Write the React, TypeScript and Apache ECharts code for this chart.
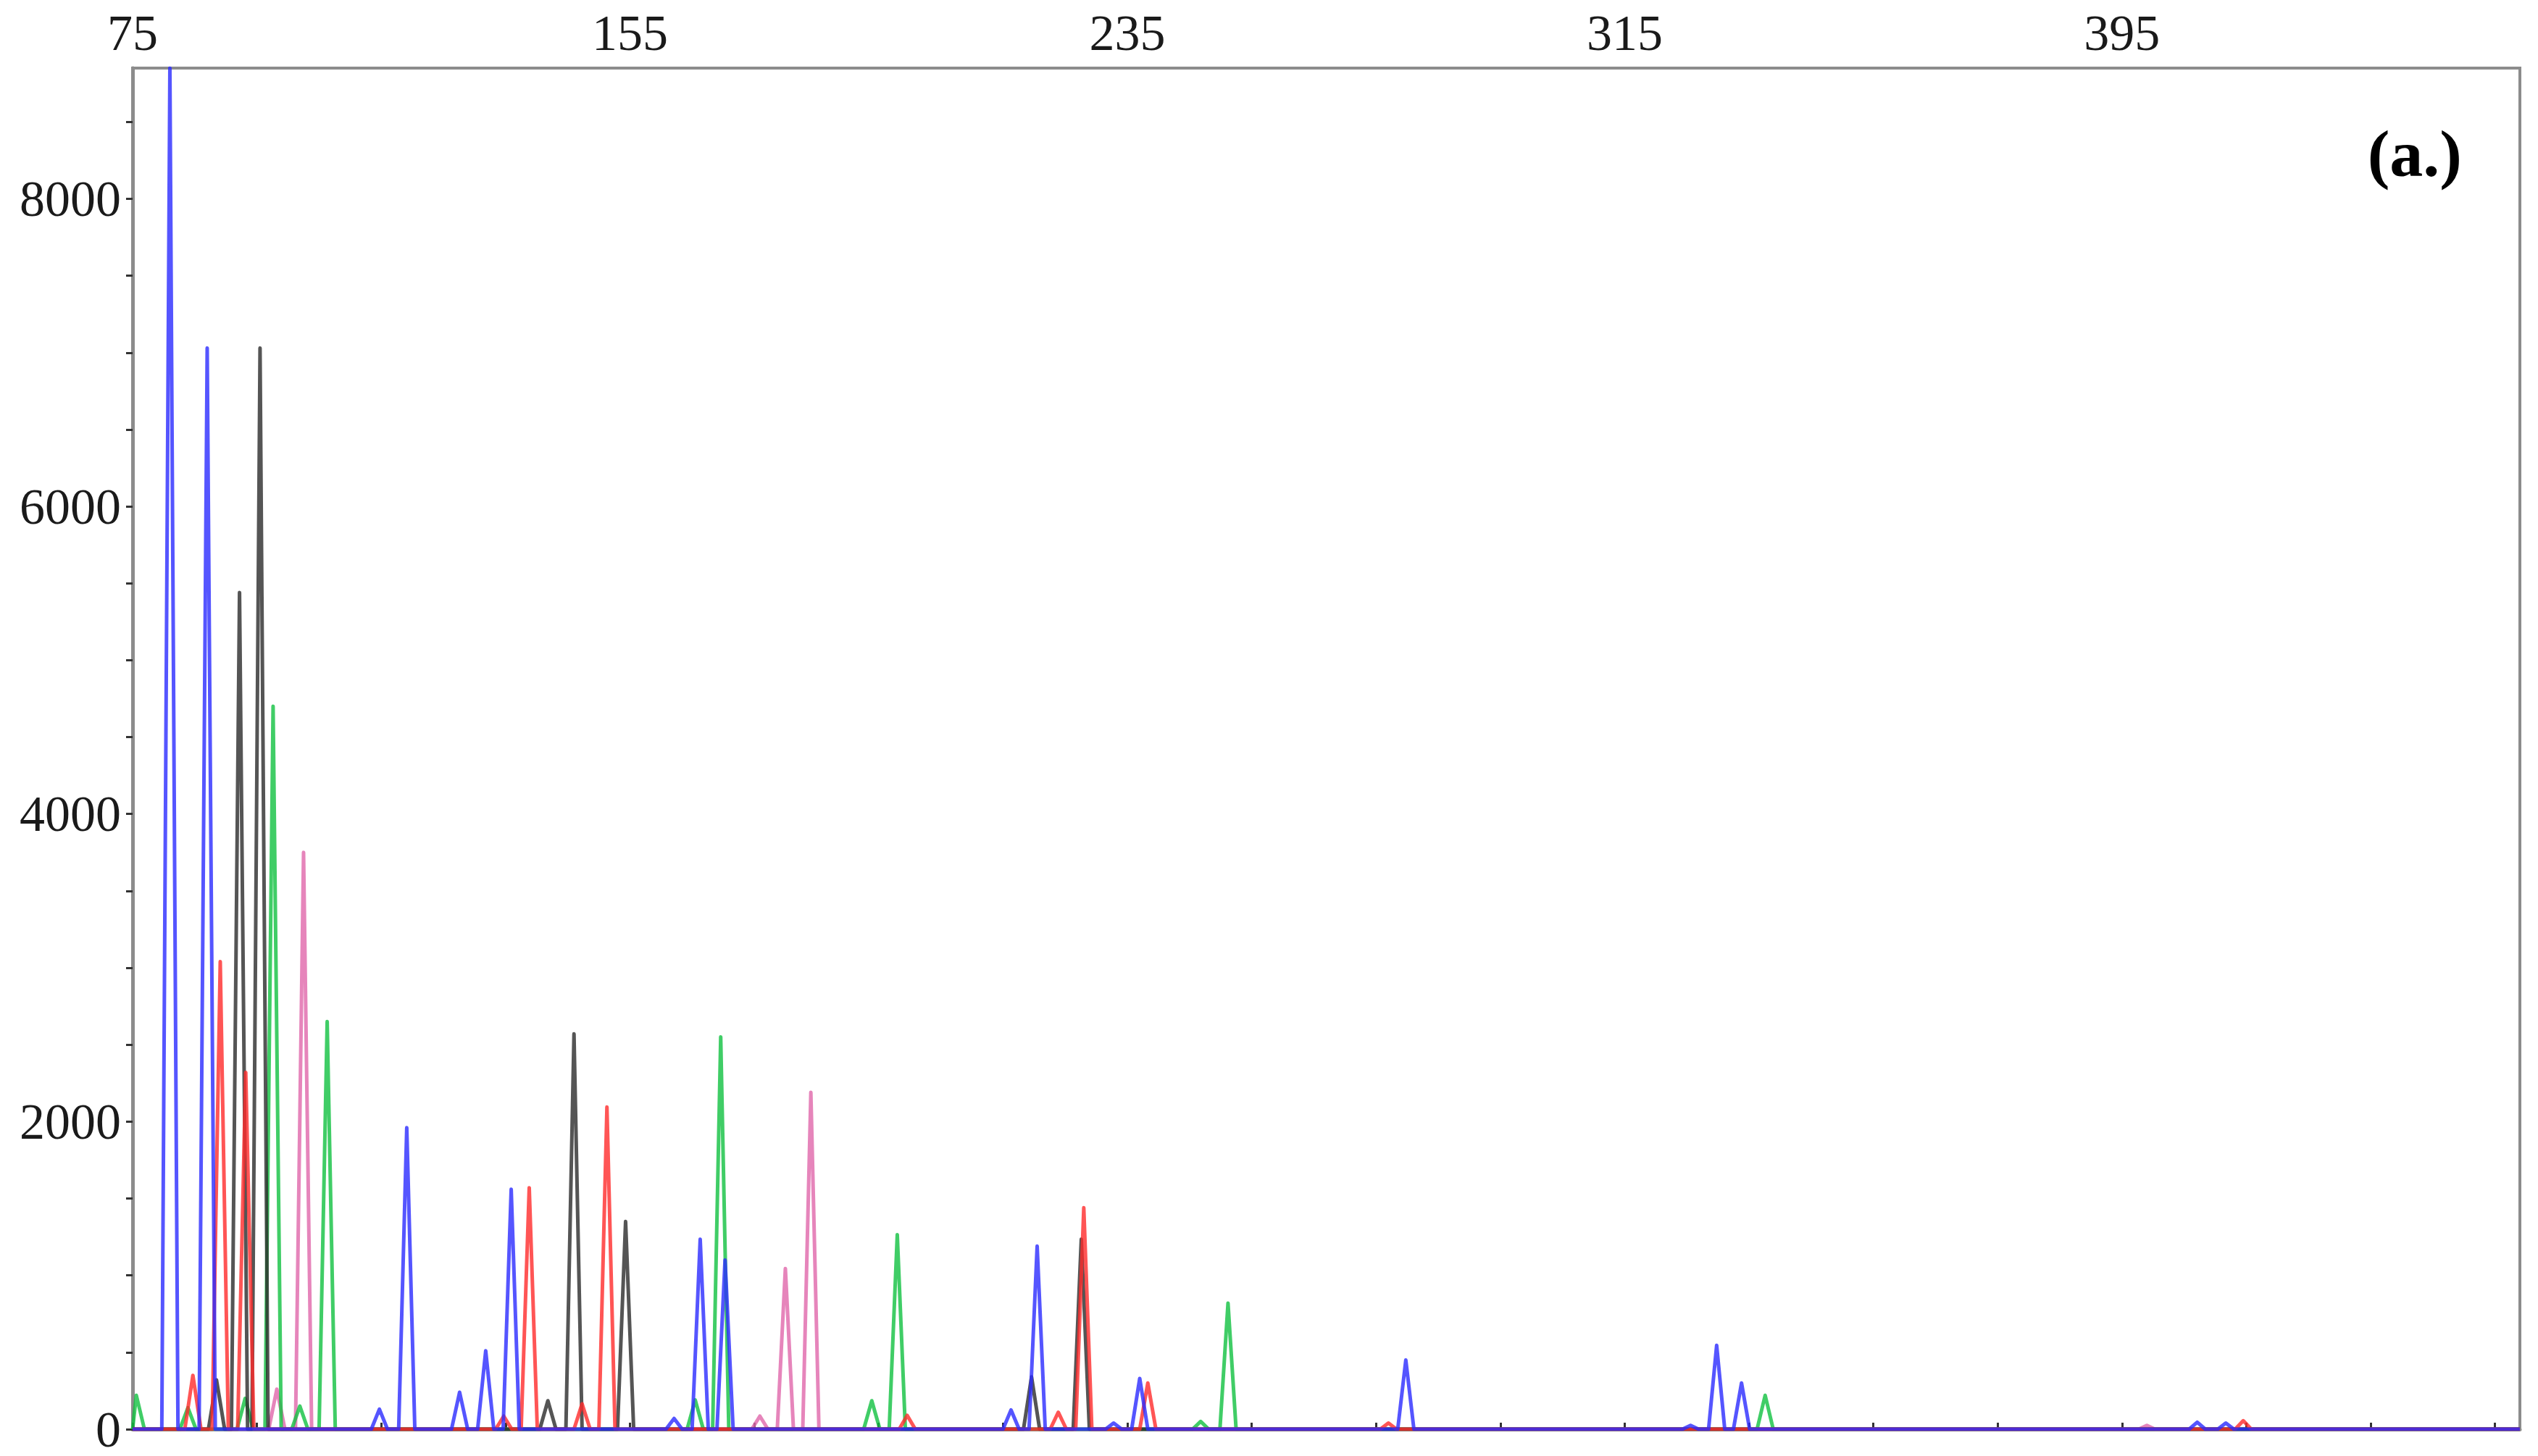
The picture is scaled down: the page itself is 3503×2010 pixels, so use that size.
import React, { useEffect, useRef } from "react";
import * as echarts from "echarts";

// Axis ranges and tick labels
const X_MIN = 75;
const X_MAX = 459;
const Y_MAX = 8850;
const xTickLabels = [75, 155, 235, 315, 395];
const yTickLabels = [0, 2000, 4000, 6000, 8000];

// Peaks: [size position, signal height]
const blueTrace: [number, number][] = [
  [81.0, 8850], [87.0, 7030], [114.7, 130], [119.1, 1960], [127.6, 240],
  [131.8, 510], [135.9, 1560], [162.1, 70], [166.3, 1235], [170.3, 1100],
  [216.3, 125], [220.5, 1190], [232.8, 40], [237.0, 330], [279.8, 450],
  [325.6, 25], [329.8, 545], [333.8, 300], [407.1, 45], [411.7, 40],
];
const redTrace: [number, number][] = [
  [84.7, 350], [89.1, 3040], [93.2, 2320], [134.7, 85], [138.8, 1570],
  [147.3, 165], [151.3, 2095], [199.6, 90], [223.9, 110], [228.0, 1440],
  [238.3, 300], [277.0, 40], [414.5, 55],
];
const blackTrace: [number, number][] = [
  [88.5, 320], [92.2, 5440], [95.5, 7030], [141.8, 185], [146.0, 2570],
  [154.3, 1350], [219.6, 340], [227.6, 1235],
];
const greenTrace: [number, number][] = [
  [75.6, 220], [83.9, 140], [93.1, 200], [97.6, 4700], [101.9, 150],
  [106.3, 2650], [165.5, 190], [169.6, 2550], [193.9, 185], [198.0, 1265],
  [246.8, 50], [251.2, 820], [337.6, 220],
];
const pinkTrace: [number, number][] = [
  [98.2, 260], [102.5, 3750], [175.9, 85], [180.0, 1045], [184.1, 2190],
  [399.0, 25],
];

const PEAK_HALF_WIDTH = 1.3;

function buildTrace(peaks: [number, number][]): [number, number][] {
  const pts: [number, number][] = [[X_MIN, 0]];
  for (const [p, h] of peaks) {
    pts.push([Math.max(X_MIN, p - PEAK_HALF_WIDTH), 0]);
    pts.push([p, h]);
    pts.push([Math.min(X_MAX, p + PEAK_HALF_WIDTH), 0]);
  }
  pts.push([X_MAX, 0]);
  return pts;
}

const FONT = "'Liberation Serif', 'DejaVu Serif', serif";

export default function App() {
  const ref = useRef<HTMLDivElement>(null);
  useEffect(() => {
    if (!ref.current) return;
    const chart = echarts.init(ref.current, undefined, { renderer: "svg" });
    const mk = (name: string, data: [number, number][], color: string, z: number) => ({
      name,
      type: "line",
      data: buildTrace(data),
      showSymbol: false,
      symbol: "none",
      z,
      lineStyle: { color, width: 5, opacity: 0.8, join: "round" },
      itemStyle: { color },
      emphasis: { disabled: true },
    });
    chart.setOption({
      animation: false,
      backgroundColor: "#ffffff",
      grid: {
        left: 183,
        right: 25,
        top: 94,
        bottom: 37,
        show: true,
        borderColor: "#8c8c8c",
        borderWidth: 4,
        backgroundColor: "transparent",
      },
      xAxis: {
        type: "value",
        position: "top",
        min: X_MIN,
        max: X_MAX,
        interval: 20,
        splitLine: { show: false },
        axisLine: { show: true, lineStyle: { color: "#8c8c8c", width: 5 } },
        axisTick: { show: true, inside: false, length: 9, lineStyle: { color: "#333", width: 3 } },
        axisLabel: {
          show: true,
          margin: 14,
          fontFamily: FONT,
          fontSize: 70,
          color: "#1a1a1a",
          showMaxLabel: false,
          formatter: (v: number) => {
            const r = Math.round(v);
            return xTickLabels.includes(r) ? String(r) : "";
          },
        },
      },
      yAxis: {
        type: "value",
        min: 0,
        max: Y_MAX,
        interval: 500,
        splitLine: { show: false },
        axisLine: { show: true, lineStyle: { color: "#8c8c8c", width: 5 } },
        axisTick: { show: true, inside: false, length: 9, lineStyle: { color: "#333", width: 3 } },
        axisLabel: {
          show: true,
          margin: 16,
          fontFamily: FONT,
          fontSize: 70,
          color: "#1a1a1a",
          showMaxLabel: false,
          formatter: (v: number) => {
            const r = Math.round(v);
            return yTickLabels.includes(r) ? String(r) : "";
          },
        },
      },
      series: [
        mk("pink", pinkTrace, "#e067aa", 2),
        mk("green", greenTrace, "#10c040", 3),
        mk("black", blackTrace, "#2a2a2a", 4),
        mk("red", redTrace, "#ff2b2b", 5),
        mk("blue", blueTrace, "#2a2aff", 6),
      ],
      graphic: [
        {
          type: "text",
          right: 105,
          top: 166,
          z: 100,
          style: {
            text: "(a.)",
            fontFamily: FONT,
            fontWeight: "bold",
            fontSize: 92,
            fill: "#000",
          },
        },
      ],
    });
    return () => chart.dispose();
  }, []);
  return (
    <div
      ref={ref}
      style={{ position: "fixed", left: 0, top: 0, width: "3503px", height: "2010px" }}
    />
  );
}
